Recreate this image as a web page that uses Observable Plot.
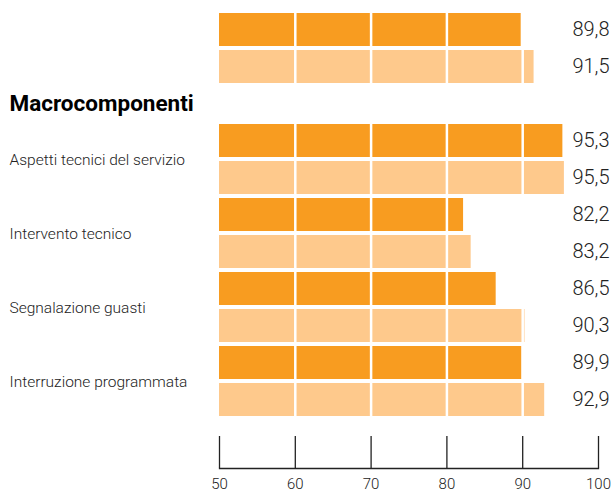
<!DOCTYPE html>
<html><head><meta charset="utf-8">
<script src="https://cdn.jsdelivr.net/npm/d3@7"></script>
<script src="https://cdn.jsdelivr.net/npm/@observablehq/plot@0.6"></script>
<style>body{margin:0;background:#fff} svg{display:block}</style>
</head><body><div id="chart"></div>
<script>
const categories = ["", "Aspetti tecnici del servizio", "Intervento tecnico", "Segnalazione guasti", "Interruzione programmata"];
const seriesDark = [89.8, 95.3, 82.2, 86.5, 89.9];
const seriesLight = [91.5, 95.5, 83.2, 90.3, 92.9];
const heading = "Macrocomponenti";
const tickValues = [50, 60, 70, 80, 90, 100];
const gridValues = [60, 70, 80, 90];

const fmt = v => v.toFixed(1).replace(".", ",");
const rows = [];
const slots = [];
categories.forEach((c, i) => {
  const a = `c${i}-a`, b = `c${i}-b`;
  slots.push(a, b);
  rows.push({slot: a, cat: c, series: "dark", value: seriesDark[i]});
  rows.push({slot: b, cat: c, series: "light", value: seriesLight[i]});
  if (i === 0) slots.push("heading");
});
const W = 612, H = 493, mT = 0, mB = 25, mL = 219, mR = 14;
const yR0 = 9.8, yR1 = 419.6;
const step = (yR1 - yR0) / slots.length;
const labelFont = "Roboto, 'Open Sans', sans-serif";

const chart = Plot.plot({
  width: W, height: H,
  marginTop: mT, marginBottom: mB, marginLeft: mL, marginRight: mR,
  style: {background: "#fff", fontFamily: labelFont},
  x: {domain: [tickValues[0], tickValues[tickValues.length - 1]], axis: null, label: null},
  y: {type: "band", domain: slots, range: [yR0, yR1], paddingInner: 0.12, paddingOuter: 0.06, axis: null},
  color: {domain: ["dark", "light"], range: ["#f89c20", "#fec98c"]},
  marks: [
    Plot.barX(rows, {y: "slot", x1: () => tickValues[0], x2: "value", fill: "series"}),
    Plot.ruleX(gridValues, {x: d => d, stroke: "#fff", strokeWidth: 2.5}),
    Plot.ruleX(tickValues, {x: d => d, stroke: "#222", strokeWidth: 1.3, insetTop: 436 - mT}),
    Plot.frame({anchor: "bottom", stroke: "#222", strokeWidth: 1.3}),
    Plot.axisX(tickValues, {tickSize: 0, tickPadding: 10, fontSize: 15, fill: "#222", fontWeight: 300, label: null, tickFormat: d => String(d)}),
    Plot.text(rows, {y: "slot", text: d => fmt(d.value), frameAnchor: "right", textAnchor: "end", dx: 11, fontSize: 20, fontWeight: 300, fill: "#222"}),
    Plot.text(rows.filter(d => d.series === "dark" && d.cat), {y: "slot", text: "cat", frameAnchor: "left", textAnchor: "start", dx: -210, dy: step / 2, fontSize: 15.5, fontWeight: 300, fill: "#222"}),
    Plot.text([heading], {y: () => "heading", text: d => d, frameAnchor: "left", textAnchor: "start", dx: -210, fontSize: 22.5, fontWeight: "bold", fill: "#000"})
  ]
});
document.getElementById("chart").appendChild(chart);
</script>
</body></html>
